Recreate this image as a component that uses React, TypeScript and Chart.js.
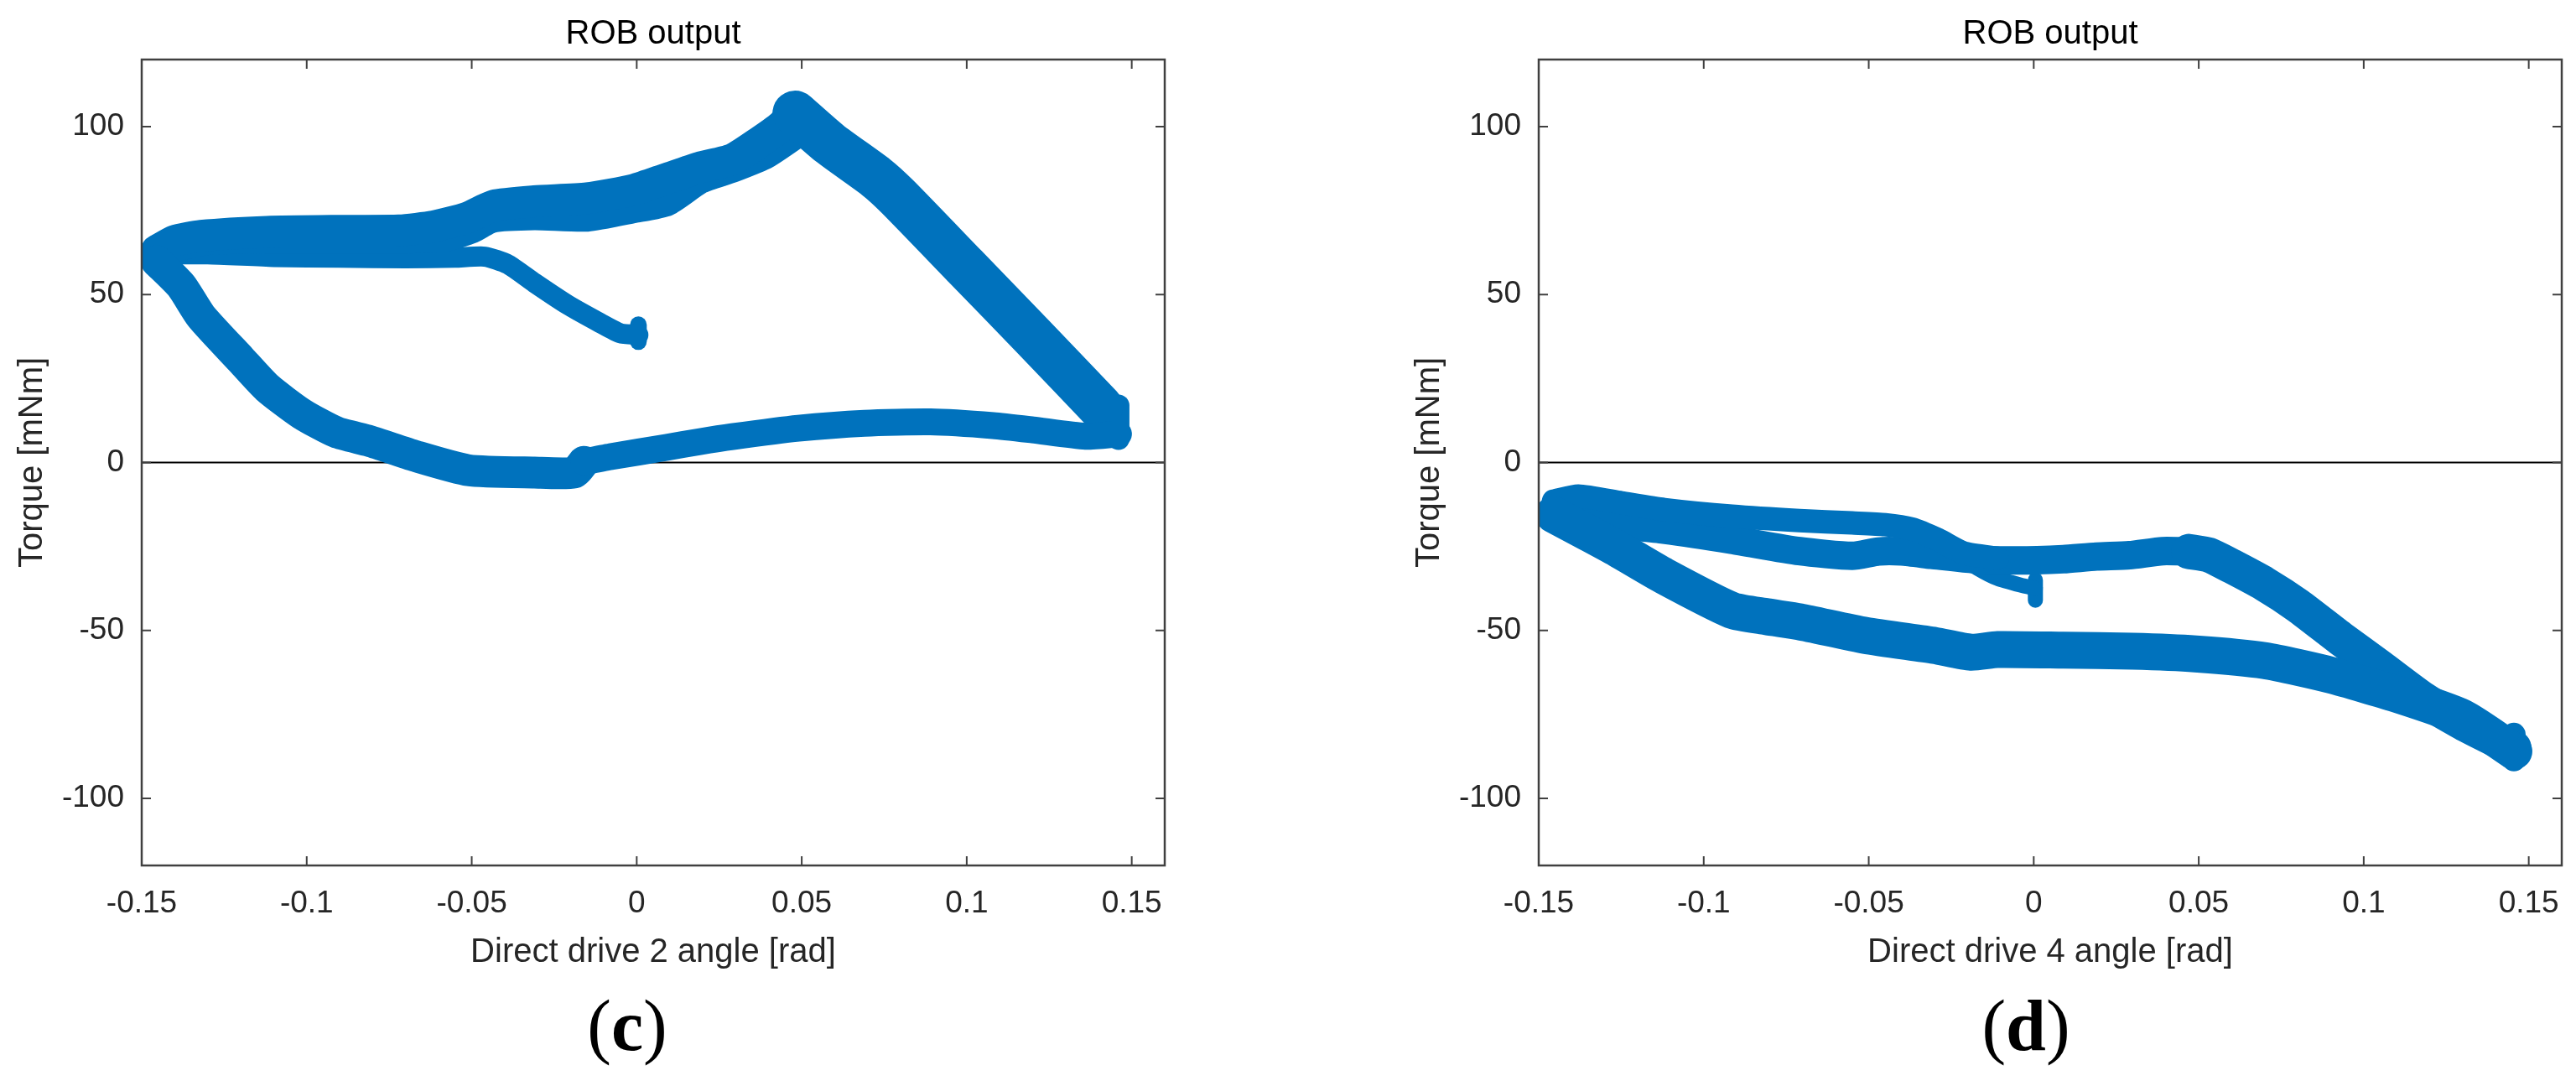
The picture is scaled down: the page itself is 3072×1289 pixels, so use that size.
import { useEffect, useRef } from "react";
import { Chart, registerables } from "chart.js";

Chart.register(...registerables);

const BLUE = "#0072BD";
const AXIS = "#404040";
const TEXT = "#262626";
const SANS = '"Liberation Sans", Arial, Helvetica, sans-serif';

const xLimits = [-0.15, 0.16];
const yLimits = [-120, 120];
const xTicks = [-0.15, -0.1, -0.05, 0, 0.05, 0.1, 0.15];
const xTickLabels = ["-0.15", "-0.1", "-0.05", "0", "0.05", "0.1", "0.15"];
const yTicks = [-100, -50, 0, 50, 100];
const yTickLabels = ["-100", "-50", "0", "50", "100"];

// panel (c): direct drive 2
const cHiX = [-0.1455, -0.14, -0.132, -0.112, -0.09, -0.072, -0.0615, -0.0514, -0.0433, -0.031, -0.015, -0.001, 0.009, 0.019, 0.029, 0.037, 0.044, 0.0475];
const cHiY = [63, 66, 67.5, 68.7, 69, 69.1, 70.3, 72.9, 76.5, 77.8, 78.7, 81.2, 84.5, 87.8, 90.3, 95.3, 100.3, 104.5];
const cLoX = [-0.1445, -0.13, -0.11, -0.09, -0.07, -0.058, -0.05, -0.044, -0.031, -0.015, -0.001, 0.009, 0.019, 0.029, 0.039, 0.05];
const cLoY = [63.5, 66.5, 67, 67, 67, 67.5, 70, 73.1, 73.9, 73.5, 76, 78.1, 84.7, 88.1, 92.2, 99.5];
const cFallX = [0.048, 0.0585, 0.0725, 0.079, 0.0995, 0.12, 0.1405];
const cFallY = [104, 95, 85, 79.2, 58.4, 37.6, 16.5];
const cEndX = [0.146, 0.146];
const cEndY = [17, 7];
const cBotRX = [0.146, 0.136, 0.12, 0.108, 0.089, 0.069, 0.049, 0.029, 0.019, 0.009, -0.0075, -0.016];
const cBotRY = [8.5, 7.8, 9.7, 11, 12.1, 11.7, 10.2, 7.7, 6.2, 4.5, 1.8, 0.2];
const cBotLX = [-0.016, -0.019, -0.031, -0.051, -0.067, -0.081, -0.091, -0.1015, -0.112, -0.12, -0.132, -0.138, -0.1455];
const cBotLY = [0.2, -3, -3, -2.3, 1.9, 6.4, 9, 14.5, 22.3, 30.7, 43.5, 52.6, 60];
const cStartX = [-0.1445, -0.13, -0.11, -0.09, -0.07, -0.055, -0.046, -0.039, -0.031, -0.021, -0.011, -0.005, 0.0005];
const cStartY = [62, 62, 61.2, 61, 60.8, 61, 61.3, 59, 53.5, 47, 41.5, 38.5, 38];
const cTipX = [0.0005, 0.0005];
const cTipY = [36, 41];

// panel (d): direct drive 4
const dAX = [-0.1455, -0.138, -0.125, -0.112, -0.0915, -0.071, -0.055, -0.045, -0.037, -0.029, -0.021, -0.011];
const dAY = [-11.5, -10, -12, -14, -16, -17.3, -18, -18.5, -19.8, -23, -27, -28.5];
const dBX = [-0.1455, -0.126, -0.112, -0.0915, -0.071, -0.055, -0.047, -0.04, -0.031, -0.015, 0.001, 0.009, 0.019, 0.029, 0.039, 0.047];
const dBY = [-16, -18.5, -20, -23, -26.4, -27.8, -26.5, -26.5, -27.5, -29.1, -29.1, -28.8, -28, -27.6, -26.4, -26.5];
const dFallX = [0.047, 0.053, 0.06, 0.07, 0.08, 0.093, 0.105, 0.118, 0.13, 0.14, 0.1455];
const dFallY = [-26.5, -27.5, -30.9, -36.2, -42.6, -52.4, -61, -70.5, -77.5, -82.5, -85];
const dBotX = [-0.1455, -0.135, -0.126, -0.112, -0.0915, -0.081, -0.071, -0.051, -0.03, -0.019, -0.011, 0.009, 0.03, 0.049, 0.07, 0.09, 0.11, 0.13, 0.1455];
const dBotY = [-15.5, -21, -25.8, -33.8, -44, -45.9, -47.4, -51.5, -54.5, -56.5, -55.7, -55.9, -56.2, -57, -59, -63.3, -69, -76, -86];
const dEndX = [0.1455, 0.1455];
const dEndY = [-81, -88.5];
const dStartX = [-0.04, -0.032, -0.024, -0.017, -0.011, -0.004, 0.0005];
const dStartY = [-19.5, -22.5, -27, -31.5, -34.5, -36.5, -37.5];
const dTipX = [0.0005, 0.0005];
const dTipY = [-35, -41];

type Trace = { xs: number[]; ys: number[]; width: number };

const panelC: Trace[] = [
  { xs: cBotRX, ys: cBotRY, width: 32 },
  { xs: cBotLX, ys: cBotLY, width: 38 },
  { xs: cFallX, ys: cFallY, width: 54 },
  { xs: cEndX, ys: cEndY, width: 26 },
  { xs: cHiX, ys: cHiY, width: 38 },
  { xs: cLoX, ys: cLoY, width: 38 },
  { xs: cStartX, ys: cStartY, width: 24 },
  { xs: cTipX, ys: cTipY, width: 20 },
];

const panelD: Trace[] = [
  { xs: dBotX, ys: dBotY, width: 44 },
  { xs: dFallX, ys: dFallY, width: 42 },
  { xs: dEndX, ys: dEndY, width: 28 },
  { xs: dAX, ys: dAY, width: 28 },
  { xs: dBX, ys: dBY, width: 34 },
  { xs: dStartX, ys: dStartY, width: 18 },
  { xs: dTipX, ys: dTipY, width: 18 },
];

const TICK_LEN = 11;
const CANVAS_W = 1460;
const CANVAS_H = 1180;

const boxPlugin = {
  id: "matlabBox",
  afterDatasetsDraw(chart: any) {
    const { ctx, chartArea: a, scales } = chart;
    const sx = scales.x;
    const sy = scales.y;
    ctx.save();
    ctx.strokeStyle = AXIS;
    ctx.lineWidth = 2;
    ctx.beginPath();
    sx.ticks.forEach((t: any) => {
      const p = sx.getPixelForValue(t.value);
      ctx.moveTo(p, a.bottom);
      ctx.lineTo(p, a.bottom - TICK_LEN);
      ctx.moveTo(p, a.top);
      ctx.lineTo(p, a.top + TICK_LEN);
    });
    sy.ticks.forEach((t: any) => {
      const p = sy.getPixelForValue(t.value);
      ctx.moveTo(a.left, p);
      ctx.lineTo(a.left + TICK_LEN, p);
      ctx.moveTo(a.right, p);
      ctx.lineTo(a.right - TICK_LEN, p);
    });
    ctx.stroke();
    ctx.lineWidth = 2.5;
    ctx.strokeRect(a.left, a.top, a.right - a.left, a.bottom - a.top);
    ctx.restore();
  },
};

function Panel({ traces, xLabel, left }: { traces: Trace[]; xLabel: string; left: number }) {
  const canvasRef = useRef<HTMLCanvasElement | null>(null);

  useEffect(() => {
    if (!canvasRef.current) return;
    const datasets: any[] = traces.map((t) => ({
      data: t.xs.map((x, i) => ({ x, y: t.ys[i] })),
      showLine: true,
      borderColor: BLUE,
      backgroundColor: BLUE,
      borderWidth: t.width,
      borderCapStyle: "round",
      borderJoinStyle: "round",
      pointRadius: 0,
      tension: 0.2,
      fill: false,
      clip: 0,
      order: 0,
    }));
    datasets.push({
      data: [
        { x: xLimits[0], y: 0 },
        { x: xLimits[1], y: 0 },
      ],
      showLine: true,
      borderColor: "#000000",
      borderWidth: 2,
      pointRadius: 0,
      fill: false,
      order: 10,
    });

    const chart = new Chart(canvasRef.current, {
      type: "scatter",
      data: { datasets },
      options: {
        responsive: false,
        animation: false,
        events: [],
        layout: {
          autoPadding: false,
          padding: { left: 0, right: CANVAS_W - 1389, top: 0, bottom: 0 },
        },
        plugins: {
          legend: { display: false },
          tooltip: { enabled: false },
          title: {
            display: true,
            text: "ROB output",
            color: "#000000",
            fullSize: false,
            font: { family: SANS, size: 40, weight: "normal", lineHeight: 1.2 },
            padding: { top: 17, bottom: 6 },
          },
        },
        scales: {
          x: {
            type: "linear",
            min: xLimits[0],
            max: xLimits[1],
            grid: { display: false, drawTicks: false },
            border: { display: false },
            afterBuildTicks: (s: any) => {
              s.ticks = xTicks.map((value) => ({ value }));
            },
            afterFit: (s: any) => {
              s.height = 148;
            },
            ticks: {
              autoSkip: false,
              maxRotation: 0,
              padding: 24,
              color: TEXT,
              font: { family: SANS, size: 37 },
              callback: (_v: any, i: number) => xTickLabels[i],
            },
            title: {
              display: true,
              text: xLabel,
              color: TEXT,
              font: { family: SANS, size: 40, lineHeight: 1.2 },
              padding: { top: 0, bottom: 20 },
            },
          },
          y: {
            type: "linear",
            min: yLimits[0],
            max: yLimits[1],
            grid: { display: false, drawTicks: false },
            border: { display: false },
            afterBuildTicks: (s: any) => {
              s.ticks = yTicks.map((value) => ({ value }));
            },
            afterFit: (s: any) => {
              s.width = 169;
            },
            ticks: {
              autoSkip: false,
              padding: 21,
              color: TEXT,
              font: { family: SANS, size: 37 },
              callback: (_v: any, i: number) => yTickLabels[i],
            },
            title: {
              display: true,
              text: "Torque [mNm]",
              color: TEXT,
              font: { family: SANS, size: 40, lineHeight: 1.2 },
              padding: { top: 15, bottom: 0 },
            },
          },
        },
      } as any,
      plugins: [boxPlugin],
    });

    return () => {
      chart.destroy();
    };
  }, [traces, xLabel]);

  return (
    <canvas
      ref={canvasRef}
      width={CANVAS_W}
      height={CANVAS_H}
      style={{ position: "absolute", left, top: 0, width: CANVAS_W, height: CANVAS_H }}
    />
  );
}

function Caption({ letter, center }: { letter: string; center: number }) {
  return (
    <div
      style={{
        position: "absolute",
        left: center - 100,
        top: 1180,
        width: 200,
        textAlign: "center",
        fontFamily: '"Liberation Serif", "Times New Roman", serif',
        fontSize: 86,
        lineHeight: "86px",
        color: "#000000",
      }}
    >
      (<b>{letter}</b>)
    </div>
  );
}

export default function App() {
  return (
    <div
      style={{
        position: "absolute",
        left: 0,
        top: 0,
        width: 3072,
        height: 1289,
        overflow: "hidden",
        background: "#ffffff",
      }}
    >
      <Panel traces={panelC} xLabel="Direct drive 2 angle [rad]" left={0} />
      <Panel traces={panelD} xLabel="Direct drive 4 angle [rad]" left={1666} />
      <Caption letter="c" center={748} />
      <Caption letter="d" center={2416} />
    </div>
  );
}
